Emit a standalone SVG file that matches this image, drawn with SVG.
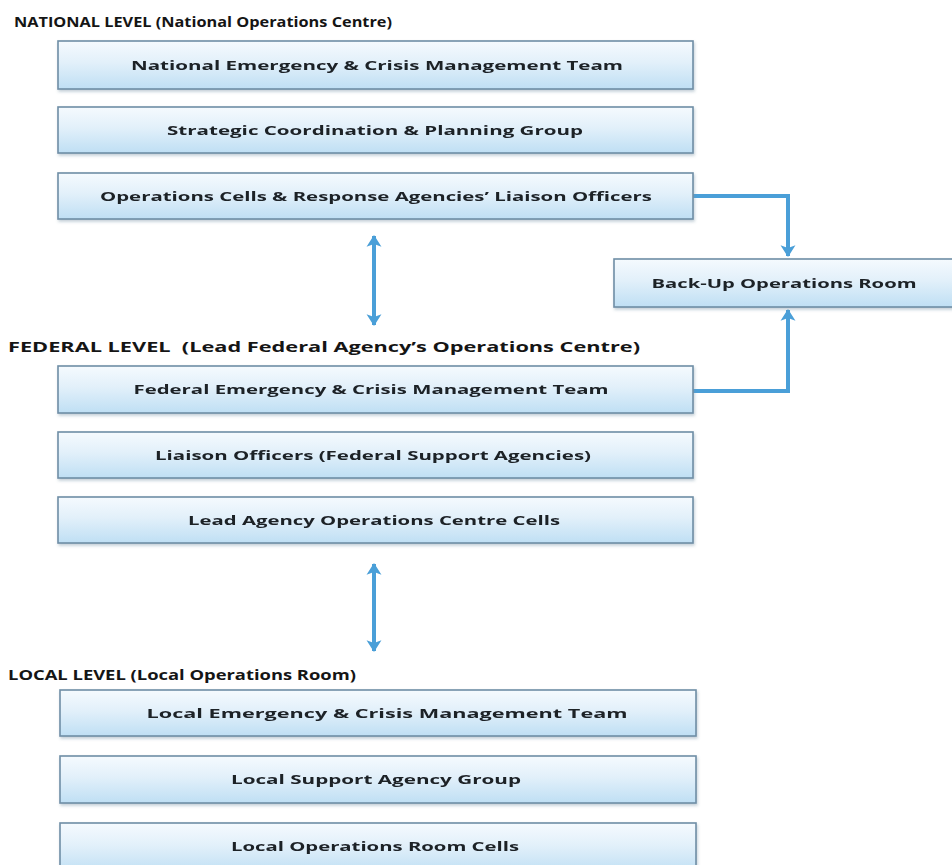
<svg xmlns="http://www.w3.org/2000/svg" width="952" height="865" viewBox="0 0 952 865">
  <style>
    .hdr { font-family: "Open Sans", "Liberation Sans", sans-serif; font-weight: bold; font-size: 14.5px; fill: #151515; }
    .lbl { font-family: "Open Sans", "Liberation Sans", sans-serif; font-weight: bold; font-size: 12.5px; fill: #1c2026; text-anchor: middle; }
    .box { fill: url(#boxFill); stroke: #6f8ea6; stroke-width: 1.6; }
    .wire { fill: none; stroke: #4a9fd8; stroke-width: 4; }
  </style>
  <defs>
    <linearGradient id="boxFill" x1="0" y1="0" x2="0" y2="1">
      <stop offset="0" stop-color="#f5fafe"/>
      <stop offset="0.45" stop-color="#e2f0fa"/>
      <stop offset="1" stop-color="#bfdff4"/>
    </linearGradient>
    <filter id="shadow" x="-5%" y="-20%" width="110%" height="150%">
      <feDropShadow dx="1" dy="2" stdDeviation="1.5" flood-color="#7d95a8" flood-opacity="0.45"/>
    </filter>
    <!-- chevron-style arrowhead, sized in stroke widths -->
    <marker id="head" viewBox="0 0 12 14" refX="10" refY="7" markerWidth="3.2" markerHeight="4.2" orient="auto-start-reverse" markerUnits="strokeWidth">
      <path d="M0,0 L11,7 L0,14 L2.5,7 Z" fill="#4a9fd8"/>
    </marker>
  </defs>

  <rect width="952" height="865" fill="#ffffff"/>

  <!-- level headings -->
  <text class="hdr" x="14" y="27" textLength="378" lengthAdjust="spacingAndGlyphs">NATIONAL LEVEL (National Operations Centre)</text>
  <text class="hdr" x="8" y="352" textLength="632" lengthAdjust="spacingAndGlyphs" xml:space="preserve">FEDERAL LEVEL  (Lead Federal Agency’s Operations Centre)</text>
  <text class="hdr" x="8" y="680" textLength="348" lengthAdjust="spacingAndGlyphs">LOCAL LEVEL (Local Operations Room)</text>

  <!-- connectors -->
  <g id="connectors">
    <line class="wire" x1="374" y1="236" x2="374" y2="325" marker-start="url(#head)" marker-end="url(#head)"/>
    <line class="wire" x1="374" y1="564" x2="374" y2="651" marker-start="url(#head)" marker-end="url(#head)"/>
    <polyline class="wire" points="693,196 788,196 788,256" marker-end="url(#head)"/>
    <polyline class="wire" points="693,391 788,391 788,310" marker-end="url(#head)"/>
  </g>

  <!-- national level -->
  <g id="national-ecmt" filter="url(#shadow)">
    <rect class="box" x="58" y="41" width="635" height="48"/>
    <text class="lbl" x="377" y="70" textLength="492" lengthAdjust="spacingAndGlyphs">National Emergency &amp; Crisis Management Team</text>
  </g>
  <g id="strategic-group" filter="url(#shadow)">
    <rect class="box" x="58" y="107" width="635" height="46"/>
    <text class="lbl" x="375" y="135" textLength="416" lengthAdjust="spacingAndGlyphs">Strategic Coordination &amp; Planning Group</text>
  </g>
  <g id="operations-cells" filter="url(#shadow)">
    <rect class="box" x="58" y="173" width="635" height="46"/>
    <text class="lbl" x="376" y="201" textLength="552" lengthAdjust="spacingAndGlyphs">Operations Cells &amp; Response Agencies’ Liaison Officers</text>
  </g>
  <g id="backup-room" filter="url(#shadow)">
    <rect class="box" x="614" y="259" width="345" height="48"/>
    <text class="lbl" x="784" y="288" textLength="265" lengthAdjust="spacingAndGlyphs">Back-Up Operations Room</text>
  </g>

  <!-- federal level -->
  <g id="federal-ecmt" filter="url(#shadow)">
    <rect class="box" x="58" y="366" width="635" height="47"/>
    <text class="lbl" x="371" y="394" textLength="475" lengthAdjust="spacingAndGlyphs">Federal Emergency &amp; Crisis Management Team</text>
  </g>
  <g id="federal-liaison" filter="url(#shadow)">
    <rect class="box" x="58" y="432" width="635" height="46"/>
    <text class="lbl" x="373" y="460" textLength="436" lengthAdjust="spacingAndGlyphs">Liaison Officers (Federal Support Agencies)</text>
  </g>
  <g id="lead-agency-cells" filter="url(#shadow)">
    <rect class="box" x="58" y="497" width="635" height="46"/>
    <text class="lbl" x="374" y="525" textLength="372" lengthAdjust="spacingAndGlyphs">Lead Agency Operations Centre Cells</text>
  </g>

  <!-- local level -->
  <g id="local-ecmt" filter="url(#shadow)">
    <rect class="box" x="60" y="690" width="636" height="46"/>
    <text class="lbl" x="387" y="718" textLength="481" lengthAdjust="spacingAndGlyphs">Local Emergency &amp; Crisis Management Team</text>
  </g>
  <g id="local-support" filter="url(#shadow)">
    <rect class="box" x="60" y="756" width="636" height="47"/>
    <text class="lbl" x="376" y="784" textLength="290" lengthAdjust="spacingAndGlyphs">Local Support Agency Group</text>
  </g>
  <g id="local-room-cells" filter="url(#shadow)">
    <rect class="box" x="60" y="823" width="636" height="50"/>
    <text class="lbl" x="375" y="851" textLength="288" lengthAdjust="spacingAndGlyphs">Local Operations Room Cells</text>
  </g>
</svg>
